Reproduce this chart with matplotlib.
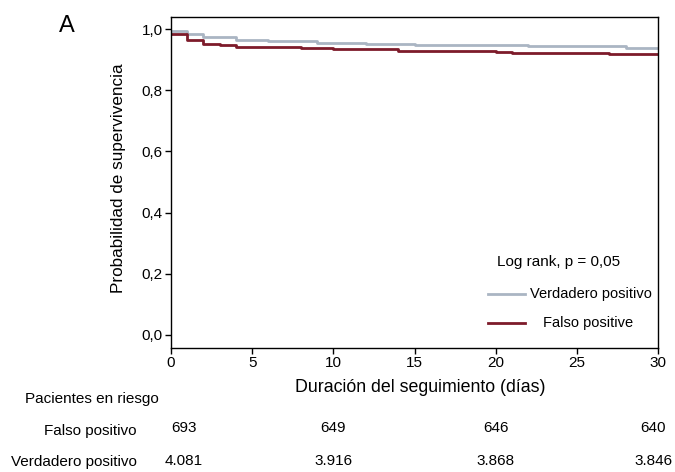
import numpy as np
import matplotlib
matplotlib.use('Agg')
import matplotlib.pyplot as plt
from matplotlib.transforms import blended_transform_factory

plt.rcParams['font.family'] = ['Liberation Sans', 'DejaVu Sans']

# ── Kaplan-Meier curves ──────────────────────────────────────────────────────
vp_days = [0, 1, 2, 4, 6, 9, 12, 15, 22, 28, 30]
vp_surv = [0.994, 0.984, 0.975, 0.966, 0.961, 0.955, 0.952, 0.950, 0.944, 0.937, 0.937]

fp_days = [0, 1, 2, 3, 4, 8, 10, 14, 20, 21, 27, 30]
fp_surv = [0.984, 0.966, 0.953, 0.948, 0.942, 0.937, 0.934, 0.929, 0.926, 0.923, 0.918, 0.918]

# ── patients at risk ─────────────────────────────────────────────────────────
risk_days = [0.8, 10, 20, 29.7]
risk_fp = ['693', '649', '646', '640']
risk_vp = ['4.081', '3.916', '3.868', '3.846']

x_ticks = [0, 5, 10, 15, 20, 25, 30]
y_ticks = [0.0, 0.2, 0.4, 0.6, 0.8, 1.0]

c_vp = '#aab5c3'
c_fp = '#7d1b2a'

W, H = 675, 472
fig = plt.figure(figsize=(W / 100, H / 100), dpi=100)
ax = fig.add_axes([171 / W, 1 - 348 / H, (658 - 171) / W, (348 - 17) / H])

ax.step(vp_days, vp_surv, where='post', color=c_vp, lw=2.0)
ax.step(fp_days, fp_surv, where='post', color=c_fp, lw=2.0)

ax.set_xlim(0, 30)
ax.set_ylim(-0.043, 1.04)
ax.set_xticks(x_ticks)
ax.set_yticks(y_ticks)
ax.set_xticklabels([str(v) for v in x_ticks], fontsize=11)
ax.set_yticklabels([f'{v:.1f}'.replace('.', ',') for v in y_ticks], fontsize=11)
ax.tick_params(direction='out', length=4, width=1, pad=2)
for sp in ax.spines.values():
    sp.set_linewidth(1.0)

# ── legend drawn by hand ─────────────────────────────────────────────────────
ax.text(0.669, 0.260, 'Log rank, p = 0,05', transform=ax.transAxes,
        ha='left', va='center', fontsize=11)
ax.plot([0.651, 0.727], [0.163, 0.163], transform=ax.transAxes,
        color=c_vp, lw=2.0)
ax.plot([0.651, 0.727], [0.0755, 0.0755], transform=ax.transAxes,
        color=c_fp, lw=2.0)
ax.text(0.737, 0.163, 'Verdadero positivo', transform=ax.transAxes,
        ha='left', va='center', fontsize=10.5)
ax.text(0.764, 0.0755, 'Falso positive', transform=ax.transAxes,
        ha='left', va='center', fontsize=10.5)

# ── labels ───────────────────────────────────────────────────────────────────
fig.text(118 / W, 1 - 178 / H, 'Probabilidad de supervivencia',
         rotation=90, ha='center', va='center', fontsize=12.3)
fig.text(420 / W, 1 - 387 / H, 'Duración del seguimiento (días)',
         ha='center', va='center', fontsize=12.8)
fig.text(67 / W, 1 - 26 / H, 'A', ha='center', va='center', fontsize=17)

# ── at-risk table ────────────────────────────────────────────────────────────
fig.text(25 / W, 1 - 399 / H, 'Pacientes en riesgo', ha='left', va='center',
         fontsize=11)
fig.text(137 / W, 1 - 431 / H, 'Falso positivo', ha='right', va='center',
         fontsize=11)
fig.text(137 / W, 1 - 462 / H, 'Verdadero positivo', ha='right', va='center',
         fontsize=11)
tr = blended_transform_factory(ax.transData, fig.transFigure)
for d, a, b in zip(risk_days, risk_fp, risk_vp):
    ax.text(d, 1 - 428 / H, a, transform=tr, ha='center', va='center',
            fontsize=11, clip_on=False)
    ax.text(d, 1 - 461 / H, b, transform=tr, ha='center', va='center',
            fontsize=11, clip_on=False)

fig.savefig('out.png', dpi=100)
